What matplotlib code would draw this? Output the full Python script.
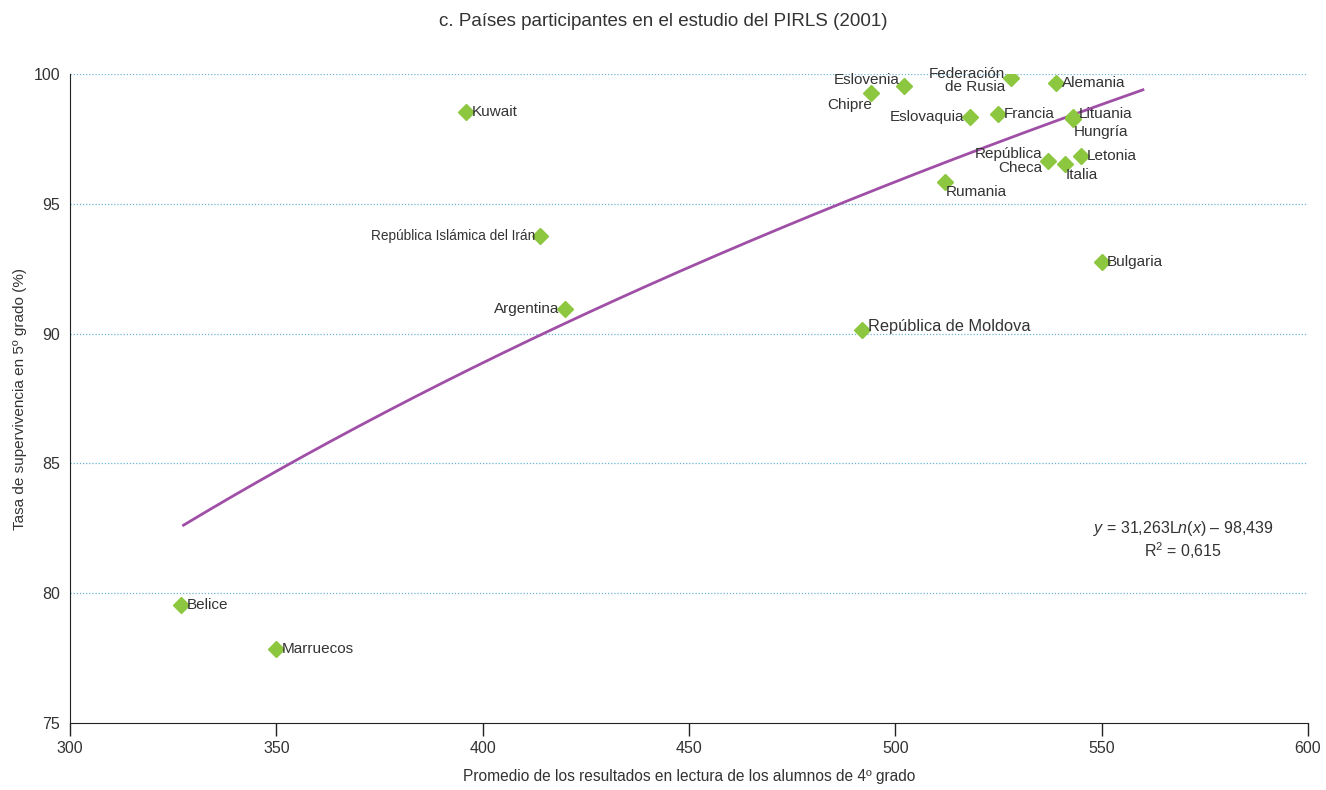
import numpy as np
import matplotlib.pyplot as plt

# -------------------------
# DATA
# -------------------------
countries = ["Belice", "Marruecos", "Kuwait", "República Islámica del Irán", "Argentina",
             "República de Moldova", "Chipre", "Eslovenia", "Eslovaquia", "Francia",
             "Federación\nde Rusia", "Alemania", "Lituania", "Hungría", "Rumania",
             "República\nCheca", "Italia", "Letonia", "Bulgaria"]
reading = [327, 350, 396, 414, 420, 492, 494, 502, 518, 525,
           528, 539, 543, 543, 512, 537, 541, 545, 550]
survival = [79.55, 77.85, 98.55, 93.75, 90.95, 90.15, 99.25, 99.55, 98.35, 98.45,
            99.85, 99.65, 98.35, 98.25, 95.85, 96.65, 96.55, 96.85, 92.75]

# logarithmic trend line shown on the chart
coef_a = 31.263
coef_b = -98.439
trend_end = 560

# -------------------------
# LAYOUT (label placement: offset in points, ha, va, size)
# -------------------------
label_style = {
    "Belice": ((4, 0), "left", "center", 11),
    "Marruecos": ((4, 0), "left", "center", 11),
    "Kuwait": ((4, 0), "left", "center", 11),
    "República Islámica del Irán": ((-4, 0), "right", "center", 9.8),
    "Argentina": ((-4, 0), "right", "center", 11),
    "República de Moldova": ((4, 2), "left", "center", 11.8),
    "Chipre": ((1, -3), "right", "top", 11),
    "Eslovenia": ((-3, -1), "right", "bottom", 11),
    "Eslovaquia": ((-4, 0), "right", "center", 11),
    "Francia": ((4, 0), "left", "center", 11),
    "Federación\nde Rusia": ((-4, -2), "right", "center", 11),
    "Alemania": ((4, 0), "left", "center", 11),
    "Lituania": ((4, 2), "left", "center", 11),
    "Hungría": ((1, -4), "left", "top", 11),
    "Rumania": ((1, -2), "left", "top", 11),
    "República\nCheca": ((-4, 0), "right", "center", 11),
    "Italia": ((1, -3), "left", "top", 11),
    "Letonia": ((4, 0), "left", "center", 11),
    "Bulgaria": ((4, 0), "left", "center", 11),
}

font = "Liberation Sans"
plt.rcParams["font.family"] = [font, "DejaVu Sans"]
plt.rcParams["mathtext.fontset"] = "custom"
plt.rcParams["mathtext.rm"] = font
plt.rcParams["mathtext.it"] = font + ":italic"

text_color = "#333333"
green = "#8DC63F"
purple = "#A04FA6"

# -------------------------
# PLOT
# -------------------------
fig = plt.figure(figsize=(13.26, 7.90), dpi=100)
ax = fig.add_axes([0.0528, 0.0848, 0.9336, 0.8215])

ax.set_xlim(300, 600)
ax.set_ylim(75, 100)
ax.set_xticks(np.arange(300, 601, 50))
ax.set_yticks(np.arange(75, 101, 5))

for yv in np.arange(80, 101, 5):
    ax.axhline(yv, color="#6BB6D6", lw=0.9, ls=(0, (1, 1.5)), zorder=0)

xs = np.linspace(min(reading) + 0.5, trend_end, 200)
ax.plot(xs, coef_a * np.log(xs) + coef_b, color=purple, lw=2, zorder=2)

ax.plot(reading, survival, ls="none", marker="D", ms=8, color=green, mec=green, zorder=3)

for name, x, y in zip(countries, reading, survival):
    off, ha, va, size = label_style[name]
    ax.annotate(name, (x, y), xytext=off, textcoords="offset points",
                ha=ha, va=va, fontsize=size, color=text_color, linespacing=0.95, zorder=4)

ax.text(0.899, 0.3, "$y$ = 31,263L$n(x)$ – 98,439", transform=ax.transAxes,
        ha="center", va="center", fontsize=11.5, color=text_color)
ax.text(0.899, 0.265, "R$^2$ = 0,615", transform=ax.transAxes,
        ha="center", va="center", fontsize=11.5, color=text_color)

for side in ["top", "right"]:
    ax.spines[side].set_visible(False)
ax.spines["left"].set_color("#222222")
ax.spines["bottom"].set_color("#222222")
ax.tick_params(axis="y", length=0, labelsize=11.5, labelcolor=text_color, pad=7)
ax.tick_params(axis="x", length=9, width=1, color="#222222", labelsize=11.5,
               labelcolor=text_color, pad=4)

ax.set_xlabel("Promedio de los resultados en lectura de los alumnos de 4º grado",
              fontsize=11.2, color=text_color)
ax.xaxis.set_label_coords(0.5, -0.071)
ax.set_ylabel("Tasa de supervivencia en 5º grado (%)", fontsize=11, color=text_color)
ax.yaxis.set_label_coords(-0.035, 0.5)
fig.suptitle("c. Países participantes en el estudio del PIRLS (2001)", y=0.983,
             fontsize=13.5, color=text_color)

fig.savefig("out.png", dpi=100)
